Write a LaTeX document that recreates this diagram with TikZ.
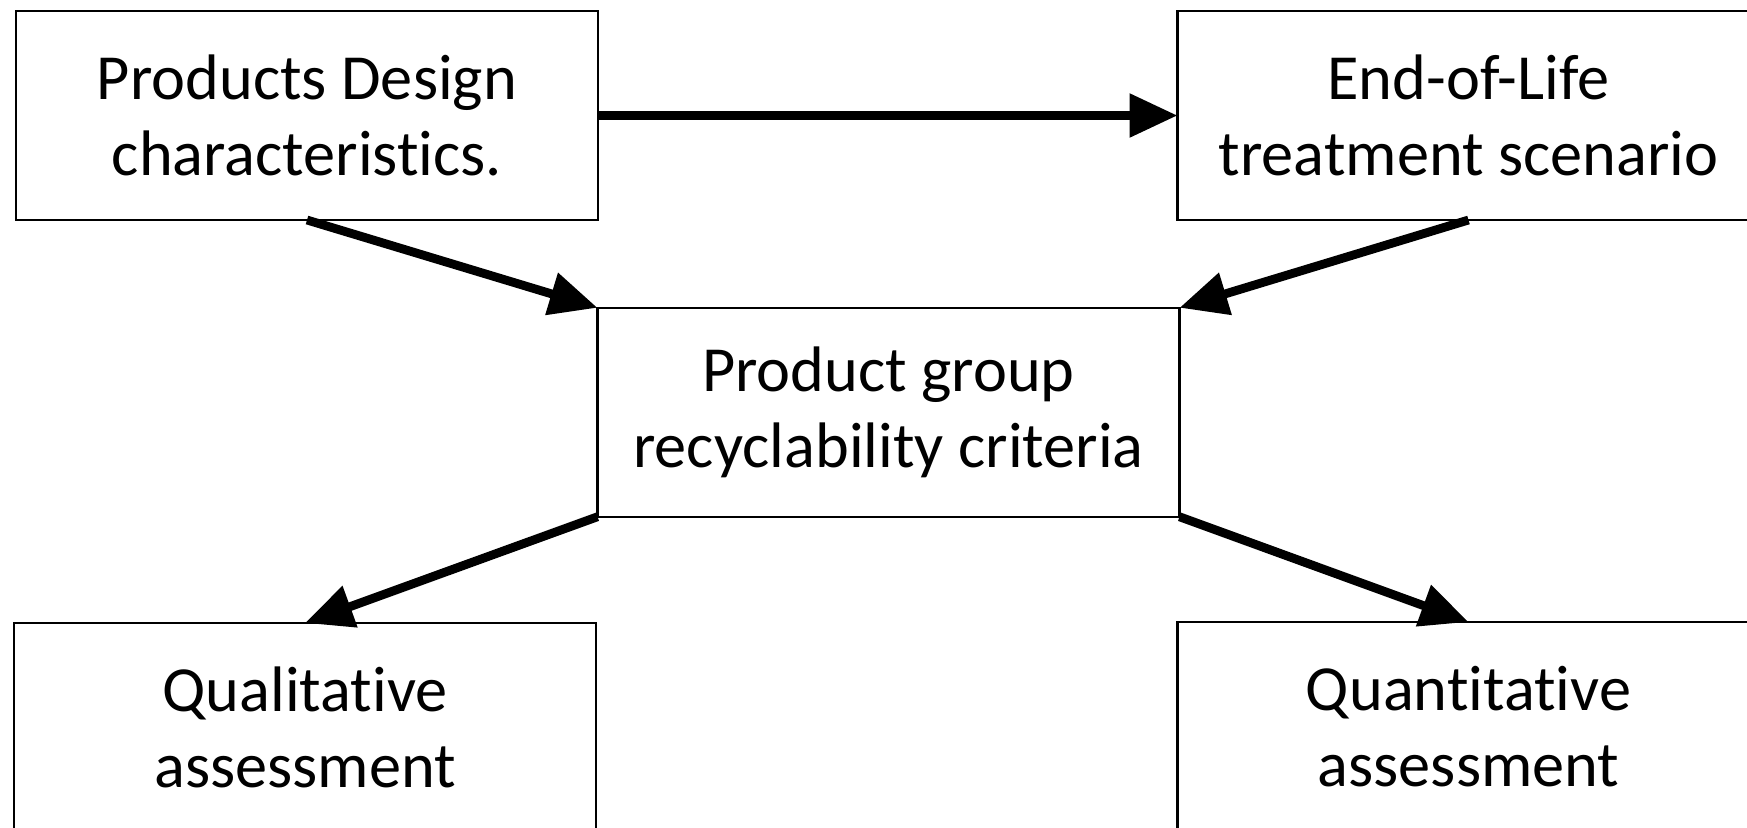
\documentclass[tikz,border=0pt]{standalone}
\usepackage{fontspec}
\setmainfont{Carlito}[RawFeature=-liga]
\usetikzlibrary{arrows.meta}

\begin{document}
\begin{tikzpicture}
        \tikzset{block/.style={rectangle,
                    draw=black, fill=white, line width=0.6pt,
                    minimum width=5.82cm,
                    minimum height=2.09cm,
                    inner sep=0pt, outer sep=0pt,
                    align=center, font=\fontsize{18.3}{21.5}\selectfont},
                 flow/.style={line width=2.5pt,
                    -{Triangle[length=0.48cm,width=0.42cm]}}}
        \useasboundingbox (0,0) rectangle (17.47,8.27);
        \node[block] (design) at (3.07,7.115) {Products Design\\characteristics.};
        \node[block] (eol) at (14.685,7.115) {End-of-Life\\treatment scenario};
        \node[block] (crit) at (8.885,4.1475) {Product group\\recyclability criteria};
        \node[block] (qual) at (3.05,0.995) {Qualitative\\assessment};
        \node[block] (quant) at (14.685,1.005) {Quantitative\\assessment};
        % arrows between the boxes
        \draw[flow] (design.east) -- (eol.west);
        \draw[flow] (design.south) -- (crit.north west);
        \draw[flow] (eol.south) -- (crit.north east);
        \draw[flow] (crit.south west) -- (qual.north);
        \draw[flow] (crit.south east) -- (quant.north);
    \end{tikzpicture}
\end{document}
